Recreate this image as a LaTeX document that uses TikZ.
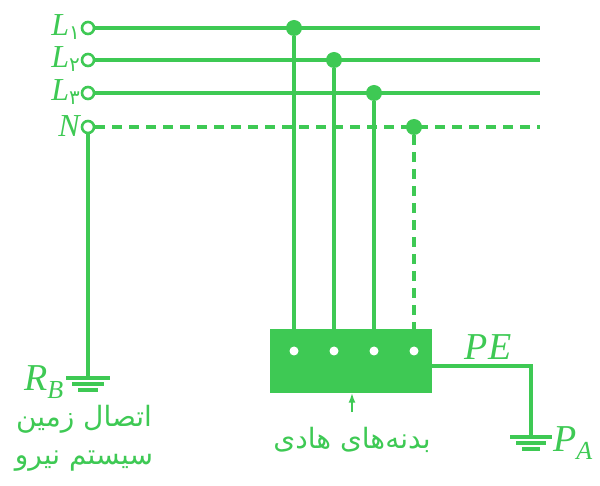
\documentclass[tikz,border=0pt]{standalone}
\usepackage{fontspec}
\usetikzlibrary{arrows.meta}
\setmainfont{Liberation Serif}
\newfontfamily\arabicfont[Script=Arabic]{DejaVu Sans}
\TeXXeTstate=1
\definecolor{gr}{RGB}{62,201,84}
\newcommand\dig[1]{\raisebox{-4pt}{\arabicfont\upshape\fontsize{20}{20}\selectfont #1}}
\begin{document}
\begin{tikzpicture}[x=1pt,y=-1pt,
  wire/.style={gr,line width=3.2pt},
  term/.style={circle,draw=gr,line width=2.6pt,fill=white,minimum size=12pt,inner sep=0pt},
  jdot/.style={circle,fill=gr,minimum size=16pt,inner sep=0pt},
  hole/.style={circle,fill=white,minimum size=9pt,inner sep=0pt},
  lbl/.style={gr,inner sep=0pt,font=\itshape\fontsize{38}{38}\selectfont},
  llbl/.style={gr,inner sep=0pt,font=\itshape\fontsize{32}{32}\selectfont,text height=20pt,text depth=4pt},
  fa/.style={gr,inner sep=0pt,font=\arabicfont\fontsize{28}{30}\selectfont}]
\useasboundingbox (0,0) rectangle (600,486);
\coordinate (ea) at (540,28);
\coordinate (eb) at (540,60);
\coordinate (ec) at (540,93);
\coordinate (en) at (540,127);
\node[term] (ta) at (88,28) {};
\node[term] (tb) at (88,60) {};
\node[term] (tc) at (88,93) {};
\node[term] (tn) at (88,127) {};
\draw[wire] (ta) -- (ea);
\draw[wire] (tb) -- (eb);
\draw[wire] (tc) -- (ec);
\draw[wire,dash pattern=on 10pt off 7pt] (tn) -- (en);
\node[llbl,anchor=east] (la) at (80,28) {L\dig{١}};
\node[llbl,anchor=east] (lb) at (80,60) {L\dig{٢}};
\node[llbl,anchor=east] (lc) at (80,93) {L\dig{٣}};
\node[llbl,anchor=east] (ln) at (80,129) {N};
% box
\node[fill=gr,minimum width=162pt,minimum height=63pt,inner sep=0pt] (box) at (351,361) {};
\foreach \x/\n in {294/a,334/b,374/c,414/n}{
  \node[hole] (h\n) at (\x,351) {};
  \coordinate (b\n) at (\x,330);
}
\node[jdot] (ja) at (294,28) {};
\node[jdot] (jb) at (334,60) {};
\node[jdot] (jc) at (374,93) {};
\node[jdot] (jn) at (414,127) {};
\draw[wire] (ja) -- (ba);
\draw[wire] (jb) -- (bb);
\draw[wire] (jc) -- (bc);
\draw[wire,dash pattern=on 10pt off 7pt] (jn) -- (bn);
% PE
\coordinate (pe1) at (432,366);
\coordinate (pe2) at (531,366);
\coordinate (ga) at (531,437);
\draw[wire] (pe1) -- (pe2) -- (ga);
\draw[wire] (510,437) -- (552,437);
\draw[wire] (516,443) -- (546,443);
\draw[wire] (522,449) -- (540,449);
\node[lbl,anchor=south] (pel) at (488,360) {PE};
\node[lbl,anchor=west] (pal) at (553,443) {P\textsubscript{\fontsize{26}{26}\selectfont A}};
% N ground
\coordinate (gn) at (88,378);
\draw[wire] (tn) -- (gn);
\draw[wire] (66,378) -- (110,378);
\draw[wire] (72,384) -- (104,384);
\draw[wire] (78,390) -- (98,390);
\node[lbl,anchor=east] (rb) at (64,382) {R\textsubscript{\fontsize{26}{26}\selectfont B}};
\node[fa] (t1) at (84,419) {\beginR اتصال زمین\endR};
\node[fa] (t2) at (84,461) {\beginR سیستم نیرو\endR};
% arrow
\coordinate (ar) at (352,412);
\draw[gr,line width=2pt,-{Latex[length=10pt,width=7pt]}] (ar) -- (box.south -| ar);
\node[fa] (t3) at (352,440) {\beginR بدنه‌های هادی\endR};
\end{tikzpicture}
\end{document}
